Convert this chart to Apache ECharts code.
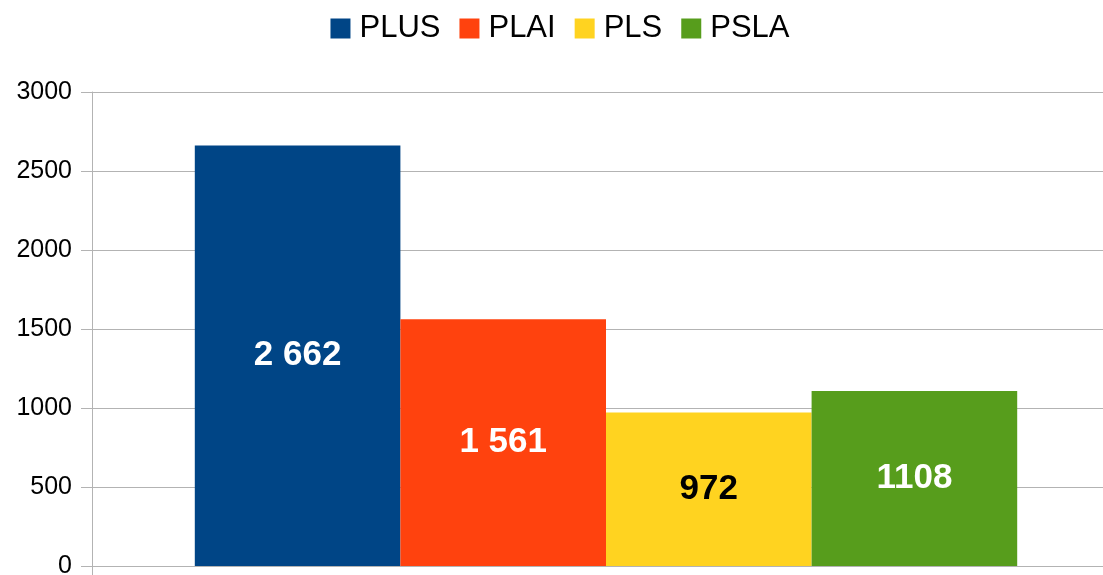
<!DOCTYPE html>
<html><head><meta charset="utf-8">
<script src="https://cdn.jsdelivr.net/npm/echarts@6/dist/echarts.min.js"></script>
<style>html,body{margin:0;padding:0;background:#fff;overflow:hidden;width:1103px;height:575px}#c{width:1120px;height:575px}</style>
</head><body><div id="c"></div>
<script>
const categories = [''];
const seriesNames = ['PLUS', 'PLAI', 'PLS', 'PSLA'];
const seriesValues = [2662, 1561, 972, 1108];
const valueLabels = ['2 662', '1 561', '972', '1108'];
const colors = ['#004586', '#ff420e', '#ffd320', '#579d1c'];
const labelColors = ['#ffffff', '#ffffff', '#000000', '#ffffff'];
const yTicks = [0, 500, 1000, 1500, 2000, 2500, 3000];

const font = '"Liberation Sans", Arial, sans-serif';
const chart = echarts.init(document.getElementById('c'), null, {renderer: 'canvas', width: 1120, height: 575});
chart.setOption({
  animation: false,
  legend: {
    top: 8, left: 'center',
    itemWidth: 20, itemHeight: 20, itemGap: 19,
    icon: 'rect',
    textStyle: {fontFamily: font, fontSize: 31, color: '#000', padding: [0, 0, 0, 4]},
    data: seriesNames
  },
  grid: {left: 92, right: 0, top: 92, height: 474, containLabel: false, outerBoundsMode: 'none'},
  xAxis: {
    type: 'category', data: categories,
    axisLine: {lineStyle: {color: '#b3b3b3', width: 1}},
    axisTick: {show: true, length: 10, lineStyle: {color: '#b3b3b3'}},
    axisLabel: {show: false}
  },
  yAxis: {
    type: 'value', min: yTicks[0], max: yTicks[yTicks.length - 1], interval: 500,
    axisLine: {show: true, lineStyle: {color: '#b3b3b3', width: 1}},
    axisTick: {show: true, length: 11, lineStyle: {color: '#b3b3b3'}},
    splitLine: {lineStyle: {color: '#b3b3b3', width: 1}},
    axisLabel: {fontFamily: font, fontSize: 25, color: '#000', margin: 20, formatter: v => String(v)}
  },
  series: seriesNames.map((n, i) => ({
    name: n, type: 'bar',
    data: [seriesValues[i]],
    barGap: '0%', barCategoryGap: '20%',
    itemStyle: {color: colors[i]},
    label: {
      show: true, position: 'inside',
      formatter: () => valueLabels[i],
      fontFamily: font, fontSize: 35, fontWeight: 'bold', color: labelColors[i]
    }
  }))
});
</script></body></html>
